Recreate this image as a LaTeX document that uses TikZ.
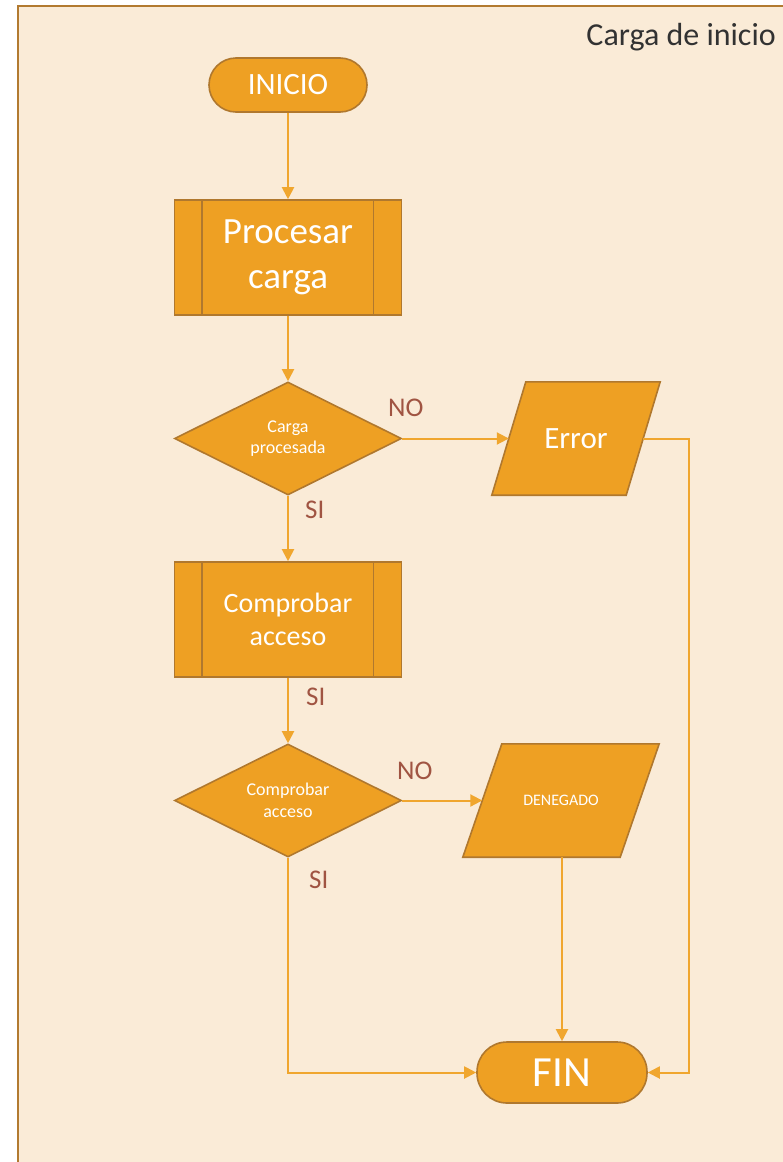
\documentclass[tikz,border=0pt]{standalone}
\usepackage{fontspec}
\setmainfont{Carlito}
\usetikzlibrary{shapes.geometric,arrows.meta}

\definecolor{pagebg}{RGB}{250,235,215}
\definecolor{frameline}{RGB}{178,122,48}
\definecolor{boxfill}{RGB}{238,160,35}
\definecolor{boxline}{RGB}{176,120,46}
\definecolor{connline}{RGB}{240,166,46}
\definecolor{labelcol}{RGB}{160,84,66}
\definecolor{titlecol}{RGB}{50,50,50}

\newcommand{\fs}[1]{\fontsize{#1}{1.2\dimexpr #1pt\relax}\selectfont}

\pgfdeclarelayer{pagelayer}
\pgfdeclarelayer{shapelayer}
\pgfsetlayers{pagelayer,shapelayer,main}

\tikzset{
  shapebase/.style={draw=boxline, line width=1.6pt, fill=boxfill, text=white,
    inner sep=0pt, align=center},
  terminal/.style={shapebase, rectangle, rounded corners=27pt},
  process/.style={shapebase, rectangle, minimum width=227pt, minimum height=115pt},
  decision/.style={shapebase, diamond, minimum width=227pt, minimum height=113pt,
    aspect=2, font=\fs{18}},
  % text holder of a data (parallelogram) box; the slanted outline is drawn below
  iobox/.style={rectangle, text=white, inner sep=0pt, align=center,
    minimum height=113pt},
  ioshape/.style={draw=boxline, line width=1.6pt, fill=boxfill, line join=miter},
  conn/.style={draw=connline, line width=2pt,
    -{Triangle[length=12pt,width=12pt]}},
  lbl/.style={text=labelcol, font=\fs{27}, inner sep=0pt},
}

\begin{document}
\begin{tikzpicture}[x=1pt,y=-1pt]
  \useasboundingbox (0,0) rectangle (782,1162);
  % page frame
  \begin{pgfonlayer}{pagelayer}
    \fill[white] (0,0) rectangle (782,1162);
    \draw[frameline, line width=2pt, fill=pagebg] (18,6) rectangle (800,1180);
  \end{pgfonlayer}
  \node[anchor=east, text=titlecol, font=\fs{32}, inner sep=0pt] (title) at (776,37) {Carga de inicio};

  % nodes
  \node[terminal, minimum width=158pt, minimum height=54pt, font=\fs{31}] (inicio) at (288,85) {INICIO};
  \node[process, font=\fs{37}, text width=170pt] (proc) at (288,257.5) {Procesar\\carga};
  \node[decision] (d1) at (288,438.5) {Carga\\procesada};
  \node[iobox, minimum width=134pt, font=\fs{31}] (err) at (576,438.5) {Error};
  \node[process, font=\fs{28}, text width=170pt] (comp) at (288,619.5) {Comprobar\\acceso};
  \node[decision] (d2) at (288,800.5) {Comprobar\\acceso};
  \node[iobox, minimum width=157pt, font=\fs{16}] (den) at (561,800.5) {DENEGADO};
  \node[terminal, minimum width=170pt, minimum height=61pt, rounded corners=30pt, font=\fs{43}] (fin) at (562,1072.5) {FIN};

  % slanted outlines of the data boxes
  \begin{pgfonlayer}{shapelayer}
    \draw[ioshape] ([xshift=17pt]err.north west) -- ([xshift=17pt]err.north east)
      -- ([xshift=-17pt]err.south east) -- ([xshift=-17pt]err.south west) -- cycle;
    \draw[ioshape] ([xshift=19.5pt]den.north west) -- ([xshift=19.5pt]den.north east)
      -- ([xshift=-19.5pt]den.south east) -- ([xshift=-19.5pt]den.south west) -- cycle;
  \end{pgfonlayer}

  % side bars of the predefined-process boxes
  \foreach \p in {proc,comp}{
    \draw[boxline, line width=1.6pt] ([xshift=28pt]\p.north west) -- ([xshift=28pt]\p.south west);
    \draw[boxline, line width=1.6pt] ([xshift=-29pt]\p.north east) -- ([xshift=-29pt]\p.south east);
  }

  % connectors
  \draw[conn] (inicio) -- (proc);
  \draw[conn] (proc) -- (d1);
  \draw[conn] (d1.east) -- (err.west);
  \draw[conn] (d1) -- (comp);
  \draw[conn] (comp) -- (d2);
  \draw[conn] (d2.east) -- (den.west);
  \draw[conn] (err.east) -- ++(46,0) |- (fin.east);
  \draw[conn] (fin.north |- den.south) -- (fin.north);
  \draw[conn] (d2.south) |- (fin.west);

  % branch labels
  \node[lbl, anchor=west] (no1) at (388,408) {NO};
  \node[lbl, anchor=west] (si1) at (305,510) {SI};
  \node[lbl, anchor=west] (si2) at (306,697) {SI};
  \node[lbl, anchor=west] (no2) at (397,771) {NO};
  \node[lbl, anchor=west] (si3) at (309,880) {SI};
\end{tikzpicture}
\end{document}
